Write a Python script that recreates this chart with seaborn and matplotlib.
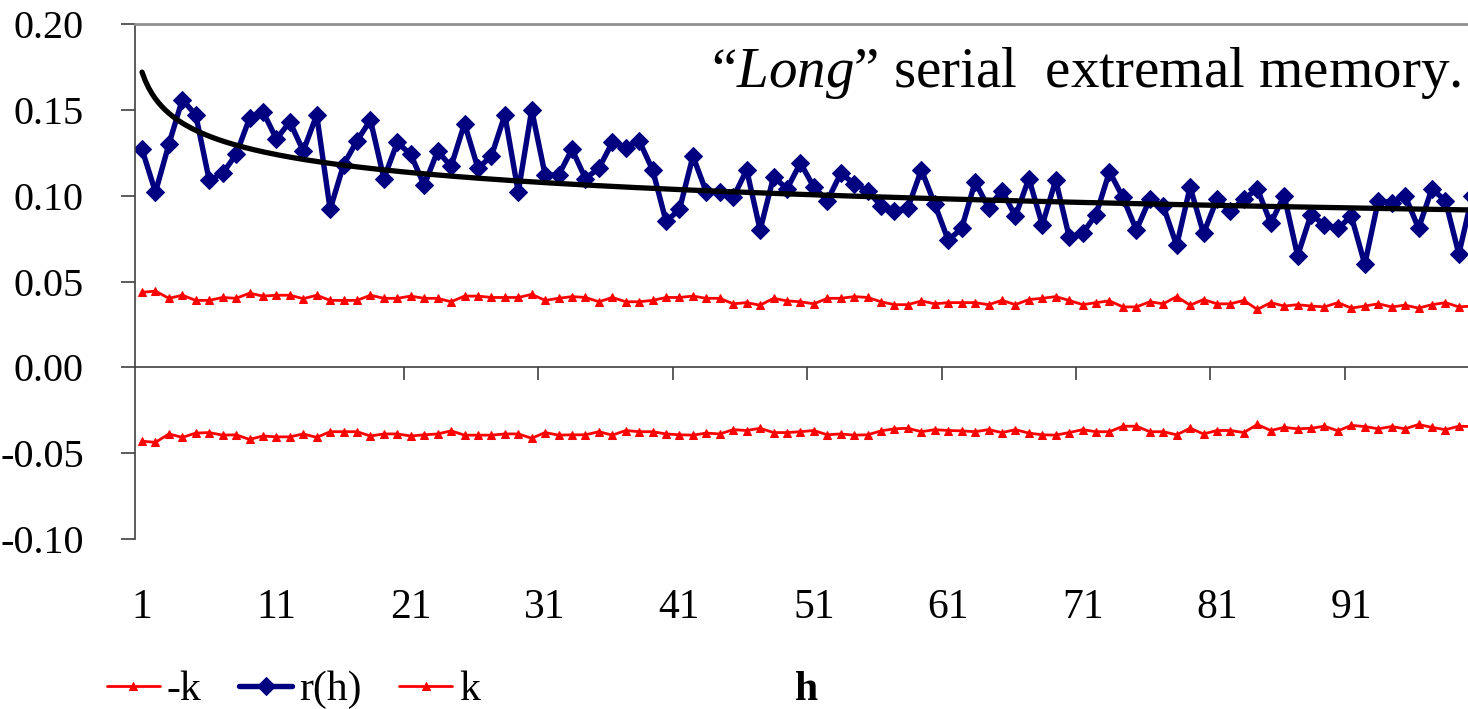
import numpy as np
import pandas as pd
import matplotlib
matplotlib.use("Agg")
import matplotlib.pyplot as plt
import seaborn as sns

# lag h = 1..100
h = list(range(1, 101))

r_h = [0.127, 0.102, 0.130, 0.156, 0.147, 0.109, 0.113, 0.124, 0.145, 0.149,
       0.133, 0.143, 0.126, 0.147, 0.092, 0.118, 0.132, 0.144, 0.110, 0.131,
       0.124, 0.106, 0.126, 0.117, 0.142, 0.116, 0.123, 0.147, 0.102, 0.150,
       0.112, 0.112, 0.127, 0.110, 0.116, 0.131, 0.128, 0.132, 0.115, 0.085,
       0.092, 0.123, 0.102, 0.102, 0.099, 0.115, 0.080, 0.111, 0.104, 0.119,
       0.105, 0.097, 0.113, 0.107, 0.103, 0.094, 0.091, 0.093, 0.115, 0.095,
       0.074, 0.081, 0.108, 0.093, 0.103, 0.088, 0.110, 0.083, 0.109, 0.076,
       0.078, 0.089, 0.114, 0.099, 0.080, 0.098, 0.094, 0.071, 0.105, 0.078,
       0.098, 0.091, 0.098, 0.104, 0.084, 0.100, 0.065, 0.089, 0.083, 0.081,
       0.088, 0.060, 0.097, 0.096, 0.100, 0.081, 0.104, 0.097, 0.066, 0.100]

k_pos = [0.0437, 0.0444, 0.0402, 0.0420, 0.0390, 0.0390, 0.0407, 0.0402, 0.0432, 0.0415,
         0.0420, 0.0420, 0.0400, 0.0420, 0.0390, 0.0390, 0.0390, 0.0420, 0.0402, 0.0402,
         0.0415, 0.0402, 0.0402, 0.0382, 0.0415, 0.0415, 0.0407, 0.0407, 0.0407, 0.0425,
         0.0390, 0.0402, 0.0412, 0.0407, 0.0382, 0.0407, 0.0382, 0.0382, 0.0390, 0.0407,
         0.0407, 0.0415, 0.0402, 0.0402, 0.0370, 0.0377, 0.0362, 0.0402, 0.0387, 0.0382,
         0.0370, 0.0402, 0.0402, 0.0412, 0.0407, 0.0382, 0.0365, 0.0365, 0.0387, 0.0370,
         0.0377, 0.0377, 0.0377, 0.0365, 0.0390, 0.0365, 0.0395, 0.0402, 0.0412, 0.0390,
         0.0365, 0.0377, 0.0387, 0.0352, 0.0352, 0.0382, 0.0370, 0.0412, 0.0362, 0.0395,
         0.0370, 0.0370, 0.0390, 0.0337, 0.0377, 0.0357, 0.0365, 0.0357, 0.0352, 0.0377,
         0.0345, 0.0357, 0.0370, 0.0352, 0.0362, 0.0345, 0.0365, 0.0377, 0.0352, 0.0357]

k_neg = [-0.0430, -0.0437, -0.0388, -0.0408, -0.0383, -0.0380, -0.0395, -0.0393, -0.0420, -0.0400,
         -0.0405, -0.0405, -0.0388, -0.0408, -0.0375, -0.0375, -0.0375, -0.0400, -0.0388, -0.0388,
         -0.0400, -0.0393, -0.0388, -0.0370, -0.0395, -0.0395, -0.0395, -0.0388, -0.0388, -0.0413,
         -0.0380, -0.0395, -0.0393, -0.0393, -0.0375, -0.0395, -0.0368, -0.0375, -0.0375, -0.0388,
         -0.0393, -0.0395, -0.0383, -0.0388, -0.0363, -0.0368, -0.0355, -0.0380, -0.0380, -0.0375,
         -0.0368, -0.0393, -0.0388, -0.0395, -0.0393, -0.0370, -0.0358, -0.0355, -0.0375, -0.0363,
         -0.0368, -0.0370, -0.0375, -0.0363, -0.0380, -0.0363, -0.0383, -0.0393, -0.0395, -0.0380,
         -0.0363, -0.0375, -0.0375, -0.0343, -0.0343, -0.0375, -0.0375, -0.0393, -0.0355, -0.0388,
         -0.0368, -0.0368, -0.0380, -0.0333, -0.0368, -0.0350, -0.0358, -0.0355, -0.0343, -0.0370,
         -0.0338, -0.0345, -0.0358, -0.0345, -0.0358, -0.0333, -0.0350, -0.0363, -0.0343, -0.0345]

x_tick_labels = [1, 11, 21, 31, 41, 51, 61, 71, 81, 91]
y_ticks = [-0.10, -0.05, 0.00, 0.05, 0.10, 0.15, 0.20]

df = pd.DataFrame({"h": h, "r": r_h, "k": k_pos, "neg_k": k_neg})

# power trendline fitted on log-log (as the spreadsheet trendline)
b, log_a = np.polyfit(np.log(df["h"]), np.log(df["r"]), 1)
h_fine = np.linspace(1, 100, 400)
trend = pd.DataFrame({"h": h_fine, "r": np.exp(log_a) * h_fine ** b})

sns.set_theme(style="white")
plt.rcParams["font.family"] = ["Liberation Serif", "DejaVu Serif"]
plt.rcParams["mathtext.fontset"] = "custom"
plt.rcParams["mathtext.rm"] = "Liberation Serif"
plt.rcParams["mathtext.it"] = "Liberation Serif:italic"
plt.rcParams["axes.unicode_minus"] = False
plt.rcParams["text.color"] = "black"
plt.rcParams["xtick.labelcolor"] = "black"
plt.rcParams["ytick.labelcolor"] = "black"

W, H = 1468, 709
fig = plt.figure(figsize=(W / 100, H / 100), dpi=100)
ax = fig.add_axes([135.3 / W, (H - 539) / H, (1479 - 135.3) / W, (539 - 24) / H])

red = "#FF0000"
navy = "#000080"
sns.lineplot(data=df, x="h", y="neg_k", ax=ax, color=red, lw=2.0, marker="^",
             markersize=6, markeredgecolor=red, label="-k")
sns.lineplot(data=df, x="h", y="r", ax=ax, color=navy, lw=3.9, marker="D",
             markersize=9, markeredgecolor=navy, label="r(h)")
sns.lineplot(data=df, x="h", y="k", ax=ax, color=red, lw=2.0, marker="^",
             markersize=6, markeredgecolor=red, label="k")
sns.lineplot(data=trend, x="h", y="r", ax=ax, color="black", lw=3.8, label="_trend")

ax.set_xlim(0.5, 100.5)
ax.set_ylim(-0.10, 0.20)
ax.set_yticks(y_ticks)
ax.set_yticklabels([f"{v:.2f}" for v in y_ticks])
ax.tick_params(axis="y", direction="out", length=10, width=1.2, color="#404040",
               pad=27, labelsize=29, left=True, labelcolor="black")
ax.set_xlabel("")
ax.set_ylabel("")

# category axis crossing at zero, ticks between categories
ax.spines["bottom"].set_position(("data", 0))
ax.spines["bottom"].set_color("#404040")
ax.spines["bottom"].set_linewidth(1.2)
ax.set_xticks([t + 9.5 for t in x_tick_labels[1:]])
ax.tick_params(axis="x", direction="out", length=9, width=1.2, color="#404040",
               labelbottom=False, bottom=True)
ax.spines["left"].set_color("#404040")
ax.spines["left"].set_linewidth(1.2)
ax.spines["top"].set_color("#909090")
ax.spines["top"].set_linewidth(2)
ax.spines["right"].set_visible(False)

# labels sit at the bottom of the plot area
sec = ax.secondary_xaxis(0.0)
sec.set_xticks(x_tick_labels)
sec.set_xticklabels([str(t) for t in x_tick_labels])
sec.tick_params(length=0, pad=36, labelsize=30, labelcolor="black")
sec.spines["bottom"].set_visible(False)

ax.text(0.987, 0.878, "\u201c$\\mathit{Long}$\u201d serial  extremal memory.",
        transform=ax.transAxes, ha="right", va="baseline", fontsize=41,
        color="black")

handles, labels = ax.get_legend_handles_labels()
ax.get_legend().remove()
keep = [(hd, lb) for hd, lb in zip(handles, labels) if not lb.startswith("_")]
fig.legend([k[0] for k in keep], [k[1] for k in keep], loc="center left",
           bbox_to_anchor=(107 / W, 1 - 690 / H), ncol=3, frameon=False,
           fontsize=30, handlelength=1.27, handletextpad=0.17, columnspacing=0.9,
           borderpad=0, borderaxespad=0, markerscale=1.0, labelcolor="black")

fig.text(807 / W, 1 - 690 / H, "h", ha="center", va="center", fontsize=30,
         fontweight="bold", color="black")

fig.savefig("out.png", dpi=100)
